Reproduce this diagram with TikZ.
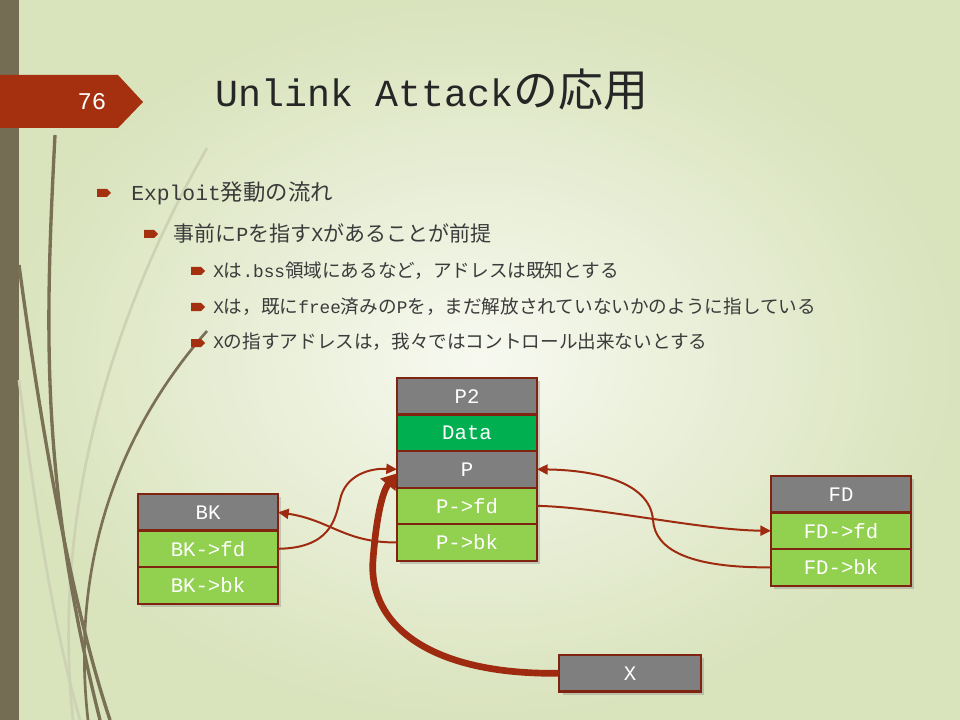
\documentclass[tikz,border=0pt]{standalone}
\usepackage{fontspec}
\newfontfamily\latinfont{Liberation Mono}
\newfontfamily\jpfont[Scale=1.05]{Noto Sans CJK JP}
\newcommand\ja[1]{{\jpfont #1}}
\usetikzlibrary{positioning,arrows.meta,shadows}

\definecolor{bgouter}{HTML}{D9E3BC}
\definecolor{bginner}{HTML}{F7F9F0}
\definecolor{barbrown}{HTML}{746C53}
\definecolor{tabred}{HTML}{A5300F}
\definecolor{decodark}{HTML}{7A7055}
\definecolor{decolight}{HTML}{CDD2B5}
\definecolor{bodytext}{HTML}{3B3B3B}
\definecolor{titletext}{HTML}{262626}
\definecolor{hdrgray}{HTML}{7F7F7F}
\definecolor{datgreen}{HTML}{00B050}
\definecolor{fldgreen}{HTML}{92D050}
\definecolor{cellline}{HTML}{7F2411}
\definecolor{linkred}{HTML}{9E2B10}

\tikzset{
  cell/.style={draw=cellline, line width=1.6pt, minimum width=105pt, minimum height=27.4pt,
    inner sep=0pt, outer sep=0pt, text=white, anchor=north,
    font=\latinfont\fontsize{15.5}{16}\selectfont,
    drop shadow={opacity=.35, shadow xshift=2.5pt, shadow yshift=-2.5pt}},
  hdr/.style={cell, fill=hdrgray},
  dat/.style={cell, fill=datgreen},
  fld/.style={cell, fill=fldgreen},
  link/.style={draw=linkred, line width=1.5pt, -{Triangle[length=8pt,width=7.5pt]}},
  xlink/.style={draw=linkred, line width=5pt, -{Triangle[length=11pt,width=14pt]}},
  bullet/.pic={\fill[tabred] (-7,-4) -- (3,-4) -- (7,0) -- (3,4) -- (-7,4) -- cycle;},
  txt/.style={anchor=base west, inner sep=0pt, text=bodytext},
  lvlone/.style={txt, font=\latinfont\fontsize{16}{18}\selectfont},
  lvltwo/.style={txt, font=\latinfont\fontsize{15}{17}\selectfont},
  lvlthree/.style={txt, font=\latinfont\fontsize{13.3}{15}\selectfont},
}

\begin{document}
\begin{tikzpicture}[x=0.75pt,y=-0.75pt]
% slide background
\useasboundingbox (0,0) rectangle (960,720);
\shade[inner color=bginner, outer color=bgouter] (0,0) rectangle (960,720);
\fill[barbrown] (0,0) rectangle (19,720);
\draw[decolight, line width=2pt] (207,148) .. controls (120,300) and (50,500) .. (73,720);
\draw[decolight, line width=2pt] (19,380) .. controls (40,550) and (60,650) .. (80,720);
\draw[decodark, line width=2.5pt] (55,135) .. controls (45,330) and (40,480) .. (100,720);
\draw[decodark, line width=2.5pt] (19,265) .. controls (40,420) and (70,600) .. (110,720);
\draw[decodark, line width=2pt] (207,331) .. controls (120,430) and (70,560) .. (88,720);

% page number tab
\fill[tabred] (0,75) -- (118,75) -- (143,102) -- (118,128) -- (0,128) -- cycle;
\node[text=white, font=\latinfont\fontsize{18}{18}\selectfont] (num) at (92,102) {76};

% title and bullets
\node[txt, text=titletext, font=\latinfont\fontsize{28.7}{30}\selectfont] (title) at (215,107)
  {Unlink Attack{\fontsize{32}{32}\selectfont\ja{の応用}}};
\pic at (104,193) {bullet};
\node[lvlone] (b1) at (131,201) {Exploit\ja{発動の流れ}};
\pic at (151,234) {bullet};
\node[lvltwo] (b2) at (173,242) {\ja{事前に}P\ja{を指す}X\ja{があることが前提}};
\pic at (198,271) {bullet};
\node[lvlthree] (b3) at (213,278) {X\ja{は}.bss\ja{領域にあるなど，アドレスは既知とする}};
\pic at (198,307) {bullet};
\node[lvlthree] (b4) at (213,313) {X\ja{は，既に}free\ja{済みの}P\ja{を，まだ解放されていないかのように指している}};
\pic at (198,343) {bullet};
\node[lvlthree] (b5) at (213,349) {X\ja{の指すアドレスは，我々ではコントロール出来ないとする}};

% chunks
\node[hdr] (p2) at (467,378) {P2};
\node[dat, below=0pt of p2] (data) {Data};
\node[hdr, below=0pt of data] (p) {P};
\node[fld, below=0pt of p] (pfd) {P->fd};
\node[fld, below=0pt of pfd] (pbk) {P->bk};

\node[hdr] (bk) at (208,494) {BK};
\node[fld, below=0pt of bk] (bkfd) {BK->fd};
\node[fld, below=0pt of bkfd] (bkbk) {BK->bk};

\node[hdr] (fd) at (841,476) {FD};
\node[fld, below=0pt of fd] (fdfd) {FD->fd};
\node[fld, below=0pt of fdfd] (fdbk) {FD->bk};

\node[hdr, minimum width=106pt] (x) at (630,655) {X};

% links
\draw[link] (pbk.west) .. controls (345,543) and (330,520) .. (bk.east);
\draw[link] (bkfd.east) .. controls (330,548) and (335,520) .. (340,500)
  .. controls (345,475) and (370,468) .. (p.west);
\draw[link] (pfd.east) .. controls (600,507) and (700,530) .. (fdfd.west);
\draw[link] (fdbk.west) .. controls (690,568) and (655,550) .. (653,520)
  .. controls (650,480) and (590,470) .. (p.east);
\draw[xlink] (x.west) .. controls (430,675) and (368,625) .. (373,560)
  .. controls (376,520) and (382,492) .. ([yshift=-3pt]p.west);
\end{tikzpicture}
\end{document}
